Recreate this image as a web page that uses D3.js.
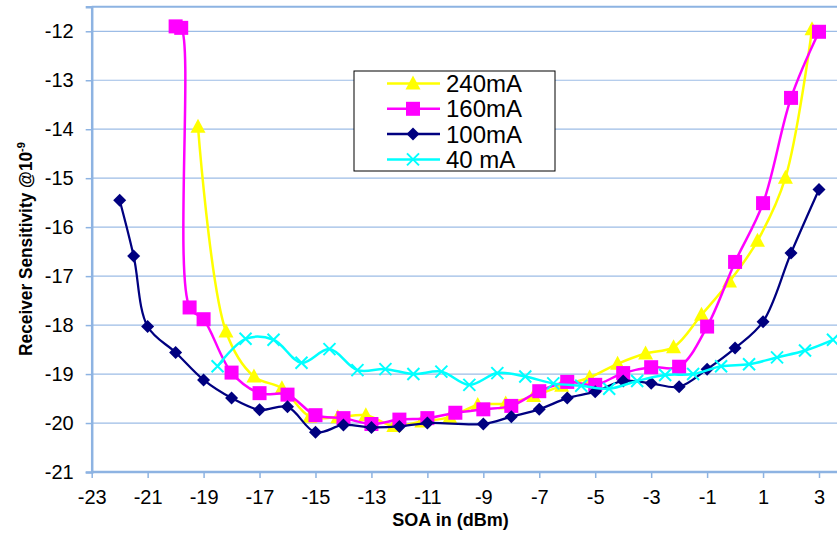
<!DOCTYPE html>
<html>
<head>
<meta charset="utf-8">
<script src="https://cdn.jsdelivr.net/npm/d3@7"></script>
<style>
  html, body { margin: 0; padding: 0; background: #fff; }
  svg { display: block; }
  text { font-family: "Liberation Sans", Arial, sans-serif; }
</style>
</head>
<body>
<svg id="chart" width="837" height="534"></svg>
<script>
// SOA input power (dBm) and receiver sensitivity (dBm @ BER 1e-9) per bias current
const x240 = [-19.2, -18.2, -17.2, -16.2, -15.2, -14.2, -13.2, -12.2, -11.2, -10.2, -9.2, -8.2, -7.2, -6.2, -5.2, -4.2, -3.2, -2.2, -1.2, -0.2, 0.8, 1.8, 2.75];
const y240 = [-13.95, -18.13, -19.05, -19.29, -19.87, -19.88, -19.84, -20.06, -19.97, -19.88, -19.63, -19.6, -19.45, -19.24, -19.07, -18.79, -18.58, -18.45, -17.79, -17.11, -16.28, -14.99, -11.96];

const x160 = [-20, -19.8, -19.5, -19, -18, -17, -16, -15, -14, -13, -12, -11, -10, -9, -8, -7, -6, -5, -4, -3, -2, -1, 0, 1, 2, 3];
const y160 = [-11.9, -11.93, -17.64, -17.88, -18.97, -19.39, -19.42, -19.84, -19.9, -20.02, -19.93, -19.9, -19.79, -19.72, -19.65, -19.35, -19.16, -19.22, -18.98, -18.86, -18.85, -18.03, -16.71, -15.51, -13.36, -12.01];

const x100 = [-22, -21.5, -21, -20, -19, -18, -17, -16, -15, -14, -13, -12, -11, -9, -8, -7, -6, -5, -4, -3, -2, -1, 0, 1, 2, 3];
const y100 = [-15.45, -16.59, -18.03, -18.56, -19.12, -19.49, -19.73, -19.67, -20.19, -20.04, -20.09, -20.07, -20.0, -20.02, -19.87, -19.72, -19.49, -19.36, -19.14, -19.19, -19.26, -18.9, -18.47, -17.93, -16.53, -15.23];

const x40 = [-18.5, -17.5, -16.5, -15.5, -14.5, -13.5, -12.5, -11.5, -10.5, -9.5, -8.5, -7.5, -6.5, -5.5, -4.5, -3.5, -2.5, -1.5, -0.5, 0.5, 1.5, 2.5, 3.5];
const y40 = [-18.84, -18.28, -18.3, -18.77, -18.49, -18.92, -18.9, -19.0, -18.95, -19.22, -18.98, -19.05, -19.19, -19.24, -19.3, -19.14, -19.02, -19.0, -18.84, -18.8, -18.66, -18.52, -18.3];

const seriesNames = ["240mA", "160mA", "100mA", "40 mA"];
const seriesColors = ["#FFFF00", "#FF00FF", "#000080", "#00FFFF"];
const seriesMarkers = ["triangle", "square", "diamond", "cross"];

const xTicks = [-23, -21, -19, -17, -15, -13, -11, -9, -7, -5, -3, -1, 1, 3];
const yTicks = [-21, -20, -19, -18, -17, -16, -15, -14, -13, -12];

const xAxisTitle = "SOA in (dBm)";

const svg = d3.select("#chart");
const W = 837, H = 534;
const plotLeft = 91.7, plotBottom = 472, plotTop = 6.8;

const x = d3.scaleLinear().domain([-23, 3]).range([plotLeft, 819]);
const y = d3.scaleLinear().domain([-21, -11.5]).range([plotBottom, plotTop]);

const gridColor = "#9CBCE6";
const axisColor = "#8DB3E2";

// horizontal gridlines
svg.append("g")
  .selectAll("line")
  .data(yTicks.filter(t => t > -21))
  .join("line")
  .attr("x1", plotLeft).attr("x2", W)
  .attr("y1", d => y(d)).attr("y2", d => y(d))
  .attr("stroke", gridColor).attr("stroke-width", 1.2);

// top border of plot area
svg.append("line")
  .attr("x1", plotLeft).attr("x2", W)
  .attr("y1", plotTop).attr("y2", plotTop)
  .attr("stroke", axisColor).attr("stroke-width", 2);

// y axis
const yAxis = d3.axisLeft(y).tickValues(yTicks).tickSize(6).tickPadding(12).tickFormat(d => String(d));
const gy = svg.append("g").attr("transform", `translate(${plotLeft},0)`).call(yAxis);
gy.select(".domain").attr("stroke", axisColor).attr("stroke-width", 2.5);
gy.selectAll(".tick line").attr("stroke", axisColor).attr("stroke-width", 1.5);
gy.selectAll(".tick text")
  .attr("font-size", 20).attr("fill", "#000")
  .attr("font-family", "'Liberation Sans', Arial, sans-serif");

// x axis
const xAxis = d3.axisBottom(x).tickValues(xTicks).tickSize(6).tickPadding(12).tickFormat(d => String(d));
const gx = svg.append("g").attr("transform", `translate(0,${plotBottom})`).call(xAxis);
gx.select(".domain").remove();
gx.append("line").attr("x1", plotLeft).attr("x2", W).attr("y1", 0).attr("y2", 0)
  .attr("stroke", axisColor).attr("stroke-width", 2.5);
gx.selectAll(".tick line").attr("stroke", axisColor).attr("stroke-width", 1.5);
gx.selectAll(".tick text")
  .attr("font-size", 20).attr("fill", "#000")
  .attr("font-family", "'Liberation Sans', Arial, sans-serif");

// axis titles
svg.append("text")
  .attr("x", 450.5).attr("y", 525.5)
  .attr("text-anchor", "middle")
  .attr("font-family", "'Open Sans', 'Noto Sans', sans-serif")
  .attr("font-weight", "bold").attr("font-size", 18)
  .text(xAxisTitle);

const yTitle = svg.append("text")
  .attr("transform", "translate(32,249) rotate(-90)")
  .attr("text-anchor", "middle")
  .attr("font-family", "'Open Sans', 'Noto Sans', sans-serif")
  .attr("font-weight", "bold").attr("font-size", 17.5);
yTitle.append("tspan")
  .attr("textLength", 204).attr("lengthAdjust", "spacingAndGlyphs")
  .text("Receiver Sensitivity @10");
yTitle.append("tspan").attr("dy", -7).attr("font-size", 11).text("-9");

// marker drawing
function drawMarker(sel, kind, color) {
  if (kind === "triangle") {
    sel.append("path").attr("d", "M0,-8 L7.5,6 L-7.5,6 Z").attr("fill", color);
  } else if (kind === "square") {
    sel.append("rect").attr("x", -7).attr("y", -7).attr("width", 14).attr("height", 14).attr("fill", color);
  } else if (kind === "diamond") {
    sel.append("path").attr("d", "M0,-6.5 L6.5,0 L0,6.5 L-6.5,0 Z").attr("fill", color);
  } else {
    sel.append("path").attr("d", "M-6,-6 L6,6 M-6,6 L6,-6")
      .attr("stroke", color).attr("stroke-width", 2).attr("fill", "none");
  }
}

const allX = [x240, x160, x100, x40];
const allY = [y240, y160, y100, y40];

const line = d3.line()
  .x(d => x(d[0])).y(d => y(d[1]))
  .curve(d3.curveCatmullRom.alpha(0.5));

const plot = svg.append("g");
allX.forEach((xs, i) => {
  const pts = xs.map((v, k) => [v, allY[i][k]]);
  const g = plot.append("g");
  g.append("path")
    .attr("d", line(pts))
    .attr("fill", "none")
    .attr("stroke", seriesColors[i])
    .attr("stroke-width", i === 2 ? 2.25 : 2.5);
  g.selectAll("g.m")
    .data(pts)
    .join("g")
    .attr("class", "m")
    .attr("transform", d => `translate(${x(d[0])},${y(d[1])})`)
    .each(function () { drawMarker(d3.select(this), seriesMarkers[i], seriesColors[i]); });
});

// legend
const lg = svg.append("g");
lg.append("rect")
  .attr("x", 354).attr("y", 71).attr("width", 201).attr("height", 100)
  .attr("fill", "#fff").attr("stroke", "#000").attr("stroke-width", 1);
seriesNames.forEach((name, i) => {
  const ly = 83.5 + i * 25.3;
  lg.append("line").attr("x1", 387).attr("x2", 440).attr("y1", ly).attr("y2", ly)
    .attr("stroke", seriesColors[i]).attr("stroke-width", 2.5);
  const m = lg.append("g").attr("transform", `translate(413,${ly})`);
  drawMarker(m, seriesMarkers[i], seriesColors[i]);
  lg.append("text").attr("x", 446).attr("y", ly + 8.5)
    .attr("font-size", 24).attr("fill", "#000")
    .attr("font-family", "'Liberation Sans', Arial, sans-serif")
    .text(name);
});
</script>
</body>
</html>
